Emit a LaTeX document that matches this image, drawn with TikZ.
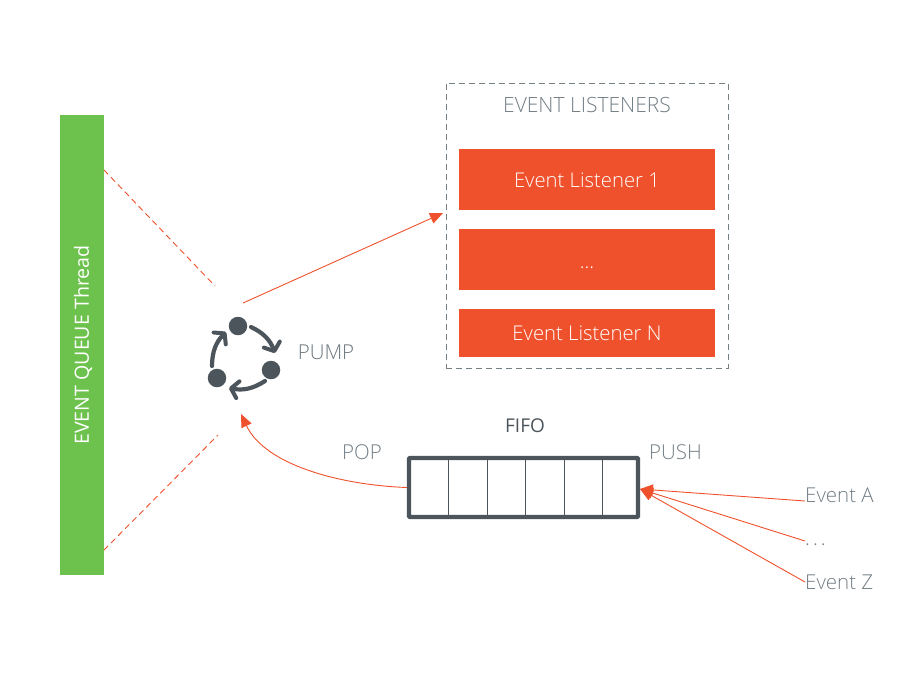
\documentclass[tikz,border=0pt]{standalone}
\usepackage{fontspec}
\setmainfont{Open Sans Light}
\newfontfamily\regfont{Open Sans}
\usetikzlibrary{arrows.meta,calc}
\definecolor{evred}{HTML}{EF512C}
\definecolor{evgreen}{HTML}{6CC24C}
\definecolor{evdark}{HTML}{4B555B}
\definecolor{evgrey}{HTML}{737E85}
\tikzset{
  label text/.style={text=evgrey,font=\fontsize{20.5}{24}\selectfont,inner sep=0pt},
  listener/.style={fill=evred,text=white,minimum width=256pt,font=\fontsize{20.3}{24}\selectfont,inner sep=0pt},
  red line/.style={evred,line width=0.9pt},
  red arrow/.style={red line,-{Triangle[length=13pt,width=11pt]}},
  pump dot/.style={circle,fill=evdark,minimum size=18.5pt,inner sep=0pt},
  pump arrow/.style={evdark,line width=4.2pt,line cap=round,-{Straight Barb[length=7pt,width=17pt,line width=4pt,round]}}
}
\begin{document}
\begin{tikzpicture}[x=1pt,y=-1pt]
  \useasboundingbox (0,0) rectangle (921,675);
  % Thread bar
  \node (thread) [fill=evgreen,minimum width=44pt,minimum height=460pt,inner sep=0pt] at (82,345) {};
  \node (threadtext) [rotate=90,text=white,font=\regfont\fontsize{19.6}{24}\selectfont,inner sep=0pt] at (83,345) {EVENT QUEUE Thread};
  \coordinate (threadtop) at (104,170);
  \coordinate (threadbot) at (104,550);
  \coordinate (pumptop) at (215,286);
  \coordinate (pumpbot) at (218,435);
  \draw [red line,dash pattern=on 6pt off 4pt] (threadtop) -- (pumptop);
  \draw [red line,dash pattern=on 6pt off 4pt] (threadbot) -- (pumpbot);
  % Pump icon
  \node (p1) [pump dot] at (238,326) {};
  \node (p2) [pump dot] at (271,370) {};
  \node (p3) [pump dot] at (217,378) {};
  \coordinate (a1) at (251,327); \coordinate (b1) at (275,353);
  \coordinate (a2) at (265,381); \coordinate (b2) at (229,388);
  \coordinate (a3) at (212,366); \coordinate (b3) at (226,332);
  \draw [pump arrow] (a1) to [bend left=22] (b1);
  \draw [pump arrow] (a2) to [bend left=22] (b2);
  \draw [pump arrow] (a3) to [bend left=22] (b3);
  \node (pump) [label text,text=evgrey!80!evdark] at (326,352) {PUMP};
  % Listeners
  \node (listeners) [draw=evgrey,dash pattern=on 6pt off 4pt,line width=0.9pt,minimum width=282pt,minimum height=285pt,inner sep=0pt] at (587,225.5) {};
  \node (listenerstitle) [label text,font=\fontsize{21}{24}\selectfont] at (587,105) {EVENT LISTENERS};
  \node (l1) [listener,minimum height=61pt,text height=15pt,text depth=0pt] at (587,179.5) {Event Listener 1};
  \node (l2) [listener,minimum height=61pt,text height=22pt,text depth=5pt] at (587,259.5) {...};
  \node (l3) [listener,minimum height=48pt] at (587,333) {Event Listener N};
  \coordinate (pumpout) at (243,303);
  \coordinate (listenersin) at (443,213);
  \draw [red arrow] (pumpout) -- (listenersin);
  % Queue
  \node (fifo) [draw=evdark,line width=4.4pt,rounded corners=1pt,minimum width=229pt,minimum height=59pt,inner sep=0pt] at (523.5,487.5) {};
  \foreach \x in {448,487,525,564,602} {
    \draw [evdark,line width=1pt] (\x,459) -- (\x,516);
  }
  \node (fifotitle) [text=evdark,font=\regfont\fontsize{19}{24}\selectfont,inner sep=0pt] at (525,426) {FIFO};
  \node (pop) [label text] at (362,452) {POP};
  \node (push) [label text] at (675.5,452) {PUSH};
  \coordinate (popend) at (241,414);
  \draw [red arrow] (fifo.west) .. controls (340,485) and (265,465) .. (popend);
  % Events
  \node (evA) [label text,anchor=west] at (805,495) {Event A};
  \node (evdots) [label text,anchor=west] at (805,545) {.\hspace{3pt}.\hspace{3pt}.};
  \node (evZ) [label text,anchor=west] at (805,582) {Event Z};
  \coordinate (fifoin) at (640,489);
  \coordinate (fromA) at (805,501);
  \coordinate (fromdots) at (805,541);
  \coordinate (fromZ) at (805,582);
  \foreach \e in {fromA,fromdots,fromZ} {
    \draw [red arrow] (\e) -- (fifoin);
  }
\end{tikzpicture}
\end{document}
